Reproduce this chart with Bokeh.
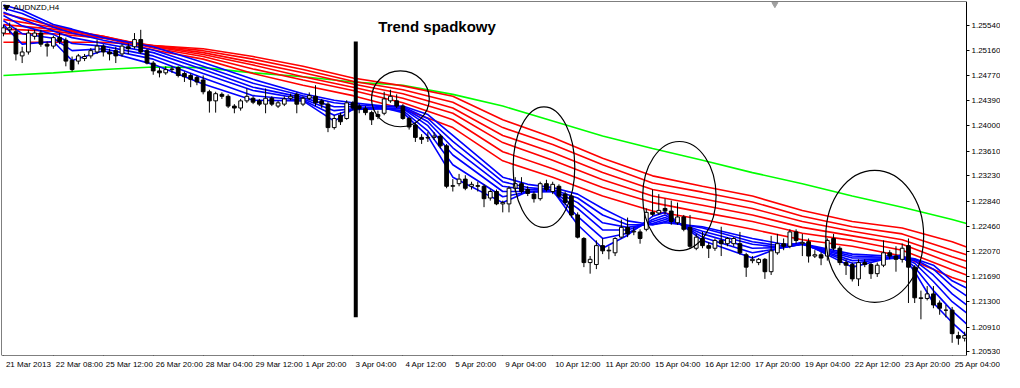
from bokeh.plotting import figure
from bokeh.models import Range1d, FixedTicker, NumeralTickFormatter, ColumnDataSource, LinearAxis
from bokeh.core.properties import value
from bokeh.embed import file_html
from bokeh.resources import INLINE

# ---------------- data (AUDNZD, H4) ----------------
OPEN = [1.2542, 1.2547, 1.2544, 1.2507, 1.2513, 1.2537, 1.2542, 1.2525, 1.2522, 1.2535,
        1.2531, 1.2500, 1.2499, 1.2503, 1.2507, 1.2513, 1.2522, 1.2513, 1.2515, 1.2510,
        1.2521, 1.2521, 1.2532, 1.2515, 1.2496, 1.2484, 1.2481, 1.2486, 1.2489, 1.2480,
        1.2477, 1.2474, 1.2470, 1.2452, 1.2438, 1.2448, 1.2445, 1.2430, 1.2427, 1.2438,
        1.2442, 1.2438, 1.2433, 1.2442, 1.2430, 1.2433, 1.2442, 1.2448, 1.2433, 1.2442,
        1.2445, 1.2438, 1.2433, 1.2397, 1.2416, 1.2411, 1.2435, 1.2430, 1.2426, 1.2420,
        1.2417, 1.2419, 1.2438, 1.2438, 1.2430, 1.2411, 1.2401, 1.2382, 1.2381, 1.2382,
        1.2384, 1.2369, 1.2307, 1.2311, 1.2318, 1.2307, 1.2308, 1.2307, 1.2289, 1.2299,
        1.2280, 1.2280, 1.2304, 1.2311, 1.2302, 1.2295, 1.2288, 1.2311, 1.2299, 1.2307,
        1.2295, 1.2292, 1.2263, 1.2227, 1.2190, 1.2187, 1.2216, 1.2208, 1.2205, 1.2229,
        1.2244, 1.2237, 1.2237, 1.2241, 1.2267, 1.2266, 1.2273, 1.2269, 1.2251, 1.2260,
        1.2244, 1.2212, 1.2227, 1.2216, 1.2212, 1.2224, 1.2219, 1.2219, 1.2219, 1.2202,
        1.2193, 1.2190, 1.2195, 1.2176, 1.2205, 1.2219, 1.2215, 1.2237, 1.2219, 1.2222,
        1.2200, 1.2202, 1.2200, 1.2227, 1.2212, 1.2190, 1.2187, 1.2165, 1.2190, 1.2187,
        1.2173, 1.2186, 1.2205, 1.2200, 1.2195, 1.2216, 1.2183, 1.2135, 1.2135, 1.2142,
        1.2128, 1.2117, 1.2117, 1.2078, 1.2074]
HIGH = [1.2554, 1.2558, 1.2550, 1.2521, 1.2547, 1.2547, 1.2547, 1.2529, 1.2538, 1.2542,
        1.2535, 1.2506, 1.2510, 1.2510, 1.2519, 1.2532, 1.2525, 1.2518, 1.2521, 1.2525,
        1.2526, 1.2542, 1.2547, 1.2518, 1.2499, 1.2489, 1.2491, 1.2491, 1.2491, 1.2483,
        1.2480, 1.2477, 1.2477, 1.2455, 1.2452, 1.2451, 1.2448, 1.2433, 1.2441, 1.2457,
        1.2445, 1.2441, 1.2457, 1.2445, 1.2438, 1.2445, 1.2449, 1.2451, 1.2445, 1.2451,
        1.2462, 1.2441, 1.2436, 1.2416, 1.2420, 1.2439, 1.2438, 1.2433, 1.2430, 1.2423,
        1.2423, 1.2452, 1.2455, 1.2448, 1.2433, 1.2414, 1.2404, 1.2387, 1.2390, 1.2390,
        1.2387, 1.2372, 1.2318, 1.2326, 1.2324, 1.2314, 1.2314, 1.2310, 1.2302, 1.2302,
        1.2285, 1.2307, 1.2321, 1.2321, 1.2307, 1.2299, 1.2314, 1.2317, 1.2314, 1.2310,
        1.2299, 1.2295, 1.2267, 1.2229, 1.2200, 1.2224, 1.2227, 1.2215, 1.2229, 1.2256,
        1.2259, 1.2244, 1.2241, 1.2273, 1.2302, 1.2295, 1.2288, 1.2285, 1.2282, 1.2263,
        1.2263, 1.2234, 1.2237, 1.2221, 1.2227, 1.2245, 1.2229, 1.2229, 1.2237, 1.2205,
        1.2200, 1.2197, 1.2197, 1.2231, 1.2234, 1.2227, 1.2241, 1.2241, 1.2234, 1.2227,
        1.2209, 1.2206, 1.2227, 1.2234, 1.2215, 1.2195, 1.2190, 1.2195, 1.2195, 1.2190,
        1.2190, 1.2224, 1.2209, 1.2215, 1.2219, 1.2227, 1.2186, 1.2147, 1.2154, 1.2154,
        1.2132, 1.2125, 1.2122, 1.2084, 1.2084]
LOW = [1.2537, 1.2542, 1.2500, 1.2496, 1.2509, 1.2532, 1.2521, 1.2506, 1.2518, 1.2525,
       1.2491, 1.2483, 1.2494, 1.2499, 1.2503, 1.2510, 1.2506, 1.2500, 1.2496, 1.2506,
       1.2510, 1.2518, 1.2510, 1.2494, 1.2478, 1.2474, 1.2478, 1.2481, 1.2474, 1.2467,
       1.2459, 1.2462, 1.2448, 1.2420, 1.2420, 1.2441, 1.2427, 1.2419, 1.2423, 1.2435,
       1.2433, 1.2430, 1.2419, 1.2430, 1.2427, 1.2430, 1.2439, 1.2419, 1.2430, 1.2439,
       1.2430, 1.2427, 1.2390, 1.2394, 1.2401, 1.2409, 1.2423, 1.2419, 1.2416, 1.2401,
       1.2410, 1.2416, 1.2435, 1.2427, 1.2409, 1.2394, 1.2375, 1.2372, 1.2375, 1.2378,
       1.2365, 1.2304, 1.2299, 1.2307, 1.2301, 1.2302, 1.2299, 1.2275, 1.2285, 1.2278,
       1.2267, 1.2267, 1.2299, 1.2296, 1.2292, 1.2282, 1.2285, 1.2299, 1.2295, 1.2289,
       1.2278, 1.2259, 1.2227, 1.2183, 1.2173, 1.2180, 1.2203, 1.2195, 1.2200, 1.2227,
       1.2229, 1.2232, 1.2219, 1.2238, 1.2261, 1.2263, 1.2264, 1.2248, 1.2248, 1.2238,
       1.2212, 1.2209, 1.2212, 1.2197, 1.2208, 1.2200, 1.2215, 1.2215, 1.2202, 1.2168,
       1.2189, 1.2186, 1.2165, 1.2171, 1.2202, 1.2209, 1.2212, 1.2219, 1.2200, 1.2190,
       1.2197, 1.2186, 1.2193, 1.2209, 1.2186, 1.2171, 1.2161, 1.2154, 1.2183, 1.2165,
       1.2168, 1.2183, 1.2195, 1.2176, 1.2190, 1.2128, 1.2128, 1.2103, 1.2132, 1.2120,
       1.2110, 1.2106, 1.2067, 1.2064, 1.2069]
CLOSE = [1.2550, 1.2550, 1.2510, 1.2513, 1.2542, 1.2542, 1.2525, 1.2522, 1.2535, 1.2529,
         1.2499, 1.2486, 1.2507, 1.2506, 1.2515, 1.2522, 1.2513, 1.2510, 1.2507, 1.2522,
         1.2518, 1.2532, 1.2513, 1.2496, 1.2484, 1.2481, 1.2486, 1.2487, 1.2477, 1.2475,
         1.2471, 1.2467, 1.2452, 1.2438, 1.2449, 1.2445, 1.2430, 1.2427, 1.2438, 1.2445,
         1.2436, 1.2433, 1.2442, 1.2433, 1.2435, 1.2441, 1.2445, 1.2433, 1.2442, 1.2446,
         1.2435, 1.2433, 1.2397, 1.2411, 1.2406, 1.2435, 1.2427, 1.2426, 1.2420, 1.2409,
         1.2414, 1.2441, 1.2445, 1.2430, 1.2411, 1.2398, 1.2382, 1.2379, 1.2382, 1.2384,
         1.2369, 1.2307, 1.2308, 1.2318, 1.2304, 1.2310, 1.2307, 1.2288, 1.2299, 1.2280,
         1.2282, 1.2304, 1.2311, 1.2299, 1.2296, 1.2288, 1.2311, 1.2302, 1.2310, 1.2292,
         1.2282, 1.2263, 1.2229, 1.2190, 1.2195, 1.2216, 1.2208, 1.2209, 1.2227, 1.2244,
         1.2234, 1.2238, 1.2227, 1.2267, 1.2264, 1.2270, 1.2269, 1.2253, 1.2260, 1.2241,
         1.2215, 1.2229, 1.2216, 1.2212, 1.2224, 1.2219, 1.2227, 1.2227, 1.2205, 1.2183,
         1.2195, 1.2195, 1.2176, 1.2208, 1.2219, 1.2215, 1.2237, 1.2224, 1.2221, 1.2200,
         1.2202, 1.2197, 1.2224, 1.2212, 1.2190, 1.2186, 1.2165, 1.2190, 1.2187, 1.2173,
         1.2186, 1.2205, 1.2200, 1.2195, 1.2212, 1.2183, 1.2136, 1.2136, 1.2142, 1.2125,
         1.2120, 1.2117, 1.2081, 1.2074, 1.2078]

# moving-average ribbons (bar index -> price)
LINE_BARS = [0, 8, 16, 24, 32, 40, 48, 56, 64, 72, 80, 88, 96, 104, 112, 120, 128, 136, 144, 152, 154.3]
RED_1 = [1.2572, 1.2553, 1.2535, 1.2516, 1.2502, 1.2480, 1.2462, 1.2446, 1.2426, 1.2397, 1.2346,
         1.2321, 1.2292, 1.2269, 1.2256, 1.2241, 1.2225, 1.2215, 1.2200, 1.2167, 1.2160]
RED_2 = [1.2563, 1.2551, 1.2537, 1.2519, 1.2506, 1.2487, 1.2470, 1.2454, 1.2435, 1.2409, 1.2360,
         1.2334, 1.2305, 1.2282, 1.2267, 1.2253, 1.2235, 1.2224, 1.2209, 1.2179, 1.2171]
RED_3 = [1.2555, 1.2548, 1.2537, 1.2521, 1.2509, 1.2493, 1.2475, 1.2459, 1.2442, 1.2419, 1.2374,
         1.2347, 1.2317, 1.2292, 1.2278, 1.2263, 1.2244, 1.2231, 1.2218, 1.2189, 1.2181]
RED_4 = [1.2548, 1.2545, 1.2535, 1.2522, 1.2512, 1.2497, 1.2481, 1.2464, 1.2449, 1.2427, 1.2385,
         1.2359, 1.2328, 1.2302, 1.2288, 1.2273, 1.2253, 1.2238, 1.2225, 1.2199, 1.2192]
RED_5 = [1.2541, 1.2541, 1.2534, 1.2523, 1.2515, 1.2502, 1.2486, 1.2468, 1.2455, 1.2436, 1.2397,
         1.2371, 1.2340, 1.2312, 1.2298, 1.2283, 1.2261, 1.2245, 1.2234, 1.2209, 1.2202]
RED_6 = [1.2528, 1.2528, 1.2528, 1.2523, 1.2518, 1.2506, 1.2491, 1.2473, 1.2461, 1.2445, 1.2409,
         1.2382, 1.2350, 1.2323, 1.2307, 1.2292, 1.2270, 1.2253, 1.2243, 1.2222, 1.2214]
GREEN = [1.2477, 1.2481, 1.2486, 1.2490, 1.2489, 1.2481, 1.2475, 1.2467, 1.2462, 1.2448, 1.2430,
         1.2407, 1.2384, 1.2365, 1.2347, 1.2328, 1.2311, 1.2292, 1.2275, 1.2256, 1.2250]

BLUE_BARS = [0, 3, 8, 11, 16, 24, 32, 40, 48, 53, 56, 61, 64, 68, 72, 80, 84, 88, 92, 96, 100,
             104, 106, 112, 120, 125, 128, 136, 144, 146, 149, 152, 154.3]
BLUE_1 = [1.2555, 1.2525, 1.2529, 1.2500, 1.2515, 1.2494, 1.2464, 1.2439, 1.2438, 1.2407, 1.2425,
          1.2427, 1.2420, 1.2384, 1.2321, 1.2282, 1.2299, 1.2301, 1.2248, 1.2212, 1.2232, 1.2261,
          1.2267, 1.2224, 1.2197, 1.2215, 1.2221, 1.2183, 1.2202, 1.2176, 1.2128, 1.2098, 1.2078]
BLUE_2 = [1.2561, 1.2541, 1.2534, 1.2515, 1.2518, 1.2502, 1.2473, 1.2446, 1.2439, 1.2416, 1.2425,
          1.2426, 1.2423, 1.2392, 1.2340, 1.2291, 1.2298, 1.2299, 1.2261, 1.2227, 1.2235, 1.2256,
          1.2263, 1.2229, 1.2205, 1.2213, 1.2219, 1.2189, 1.2199, 1.2183, 1.2147, 1.2116, 1.2096]
BLUE_3 = [1.2569, 1.2553, 1.2540, 1.2526, 1.2522, 1.2507, 1.2480, 1.2454, 1.2441, 1.2423, 1.2426,
          1.2426, 1.2426, 1.2400, 1.2355, 1.2299, 1.2299, 1.2299, 1.2273, 1.2240, 1.2240, 1.2253,
          1.2259, 1.2234, 1.2212, 1.2213, 1.2218, 1.2193, 1.2197, 1.2189, 1.2161, 1.2130, 1.2113]
BLUE_4 = [1.2574, 1.2563, 1.2545, 1.2535, 1.2526, 1.2512, 1.2486, 1.2459, 1.2443, 1.2429, 1.2429,
          1.2427, 1.2427, 1.2406, 1.2366, 1.2307, 1.2302, 1.2301, 1.2282, 1.2251, 1.2244, 1.2250,
          1.2256, 1.2238, 1.2218, 1.2213, 1.2218, 1.2197, 1.2197, 1.2193, 1.2171, 1.2142, 1.2125]
BLUE_5 = [1.2580, 1.2572, 1.2551, 1.2542, 1.2531, 1.2516, 1.2491, 1.2465, 1.2446, 1.2435, 1.2432,
          1.2429, 1.2429, 1.2411, 1.2376, 1.2314, 1.2305, 1.2302, 1.2289, 1.2263, 1.2248, 1.2248,
          1.2253, 1.2243, 1.2222, 1.2215, 1.2218, 1.2200, 1.2197, 1.2195, 1.2180, 1.2154, 1.2139]
BLUE_6 = [1.2585, 1.2577, 1.2555, 1.2548, 1.2535, 1.2521, 1.2497, 1.2471, 1.2449, 1.2439, 1.2435,
          1.2430, 1.2430, 1.2417, 1.2385, 1.2321, 1.2310, 1.2305, 1.2295, 1.2273, 1.2254, 1.2248,
          1.2251, 1.2245, 1.2227, 1.2218, 1.2219, 1.2203, 1.2199, 1.2196, 1.2186, 1.2162, 1.2151]

# axis labels
TICK_BARS = [0, 8, 16, 24, 32, 40, 48, 56, 64, 72, 80, 88, 96, 104, 112, 120, 128, 136, 144, 152]
TIME_LABELS = ["21 Mar 2013", "22 Mar 08:00", "25 Mar 12:00", "26 Mar 20:00", "28 Mar 04:00",
               "29 Mar 12:00", "1 Apr 20:00", "3 Apr 04:00", "4 Apr 12:00", "5 Apr 20:00",
               "9 Apr 04:00", "10 Apr 12:00", "11 Apr 20:00", "15 Apr 04:00", "16 Apr 12:00",
               "17 Apr 20:00", "19 Apr 04:00", "22 Apr 12:00", "23 Apr 20:00", "25 Apr 04:00"]
PRICE_TICKS = [1.2554, 1.2516, 1.2477, 1.2439, 1.2400, 1.2361, 1.2323, 1.2284, 1.2246,
               1.2207, 1.2169, 1.2130, 1.2091, 1.2053]

# annotations (circles, trend marker, title)
ELLIPSE_X = [63.6, 86.6, 108.3, 139.6]
ELLIPSE_Y = [1.24412, 1.23364, 1.22920, 1.22302]
ELLIPSE_W = [9.25, 9.88, 11.76, 15.68]
ELLIPSE_H = [0.00859, 0.01848, 0.01674, 0.02023]
MARKER_X = [56.45]
MARKER_TOP = [1.2529]
MARKER_BOTTOM = [1.2106]
TITLE = "Trend spadkowy"
SYMBOL = "AUDNZD,H4"

# ---------------- layout ----------------
X_START, X_END = -0.31, 154.3          # visible bars inside the chart window
Y_BOT, Y_TOP = 1.20475, 1.25904
CHART_W, FRAME_H = 965, 354            # chart window (px)
CANVAS_W = 999                         # chart window + price scale
FONT = "Liberation Sans"
LABEL_PX = 8
LABEL_GAP = 2.5      # px between a time tick and the start of its label
LABEL_STANDOFF = 4

ppb = CHART_W / (X_END - X_START)      # pixels per bar
X_RIGHT = X_START + CANVAS_W / ppb     # frame extends under the price scale

p = figure(frame_width=CANVAS_W, frame_height=FRAME_H,
           x_range=Range1d(X_START, X_RIGHT), y_range=Range1d(Y_BOT, Y_TOP),
           x_axis_location=None, y_axis_location=None,
           output_backend="svg", toolbar_location=None,
           min_border_left=1, min_border_top=1, min_border_right=0, min_border_bottom=0,
           background_fill_color="white", border_fill_color="white")
p.outline_line_color = None
p.grid.grid_line_color = None

def frame_axis(**kw):
    ax = LinearAxis(ticker=FixedTicker(ticks=[]), major_tick_line_color=None,
                    minor_tick_line_color=None, axis_line_color="black", axis_line_width=1,
                    major_label_text_font_size="0px", **kw)
    return ax

# chart window border (left, top)
p.add_layout(frame_axis(fixed_location=X_START), "left")
p.add_layout(frame_axis(fixed_location=Y_TOP, bounds=(X_START, X_END)), "above")

# bottom border with time tick marks
bottom = frame_axis(fixed_location=Y_BOT, bounds=(X_START, X_END))
bottom.ticker = FixedTicker(ticks=[], minor_ticks=TICK_BARS)
bottom.minor_tick_line_color = "black"
bottom.minor_tick_in = 0
bottom.minor_tick_out = 3
p.add_layout(bottom, "below")

# time labels: each starts just right of its tick mark (MetaTrader style)
EM = {' ': .278, ':': .278, 'M': .833, 'a': .556, 'r': .333, 'A': .667, 'p': .556}
def text_px(s):
    return sum(EM.get(ch, .556) for ch in s) * LABEL_PX
centers = [round(b + (LABEL_GAP + text_px(t) / 2) / ppb, 3) for b, t in zip(TICK_BARS, TIME_LABELS)]
time_axis = LinearAxis(ticker=FixedTicker(ticks=centers),
                       major_label_overrides={c: t for c, t in zip(centers, TIME_LABELS)},
                       axis_line_color=None, major_tick_line_color=None, minor_tick_line_color=None,
                       major_tick_in=0, major_tick_out=0, major_label_standoff=LABEL_STANDOFF,
                       major_label_text_font=FONT, major_label_text_font_size=f"{LABEL_PX}px",
                       major_label_text_color="black")
p.add_layout(time_axis, "below")

# price scale on the right edge of the chart window
price_axis = LinearAxis(fixed_location=X_END, ticker=FixedTicker(ticks=PRICE_TICKS),
                        formatter=NumeralTickFormatter(format="0.00000"),
                        axis_line_color="black", major_tick_line_color="black",
                        major_tick_in=0, major_tick_out=3, minor_tick_line_color=None,
                        major_label_standoff=2, major_label_text_font=FONT,
                        major_label_text_font_size=f"{LABEL_PX}px", major_label_text_color="black")
p.add_layout(price_axis, "right")

# ---------------- ribbons ----------------
p.line(LINE_BARS, GREEN, line_color="#00FF00", line_width=1.6)
for ys in (RED_6, RED_5, RED_4, RED_3, RED_2, RED_1):
    p.line(LINE_BARS, ys, line_color="#FF0000", line_width=1.6)
for ys in (BLUE_6, BLUE_5, BLUE_4, BLUE_3, BLUE_2, BLUE_1):
    p.line(BLUE_BARS, ys, line_color="#0000FF", line_width=1.6)

# ---------------- candles ----------------
bars = list(range(len(OPEN)))
src = ColumnDataSource(dict(
    x=bars, high=HIGH, low=LOW,
    top=[max(o, c) for o, c in zip(OPEN, CLOSE)],
    bottom=[min(o, c) for o, c in zip(OPEN, CLOSE)],
    fill=["white" if c >= o else "black" for o, c in zip(OPEN, CLOSE)],
))
p.segment(x0="x", y0="high", x1="x", y1="low", source=src, line_color="black", line_width=1)
p.vbar(x="x", width=0.6, top="top", bottom="bottom", fill_color="fill",
       line_color="black", line_width=1, source=src)

# ---------------- annotations ----------------
p.ellipse(x=ELLIPSE_X, y=ELLIPSE_Y, width=ELLIPSE_W, height=ELLIPSE_H,
          fill_color=None, line_color="black", line_width=1.2)
p.segment(x0=MARKER_X, y0=MARKER_TOP, x1=MARKER_X, y1=MARKER_BOTTOM,
          line_color="black", line_width=4)
p.text(x=[60.06], y=[1.25526], text=[TITLE], text_font=value(FONT),
       text_font_size=value("15px"), text_font_style="bold",
       text_align="left", text_baseline="middle", text_color="black")
p.scatter(x=[0.5], y=[1.25817], marker="inverted_triangle", size=6,
          fill_color="black", line_color="black")
p.text(x=[1.6], y=[1.25817], text=[SYMBOL], text_font=value(FONT),
       text_font_size=value("8px"), text_align="left", text_baseline="middle",
       text_color="black")
# chart-shift marker at the top edge
p.scatter(x=[123.6], y=[1.25862], marker="inverted_triangle", size=6,
          fill_color="#A0A0A0", line_color="#A0A0A0")

open("out.html", "w").write(file_html(p, INLINE))
